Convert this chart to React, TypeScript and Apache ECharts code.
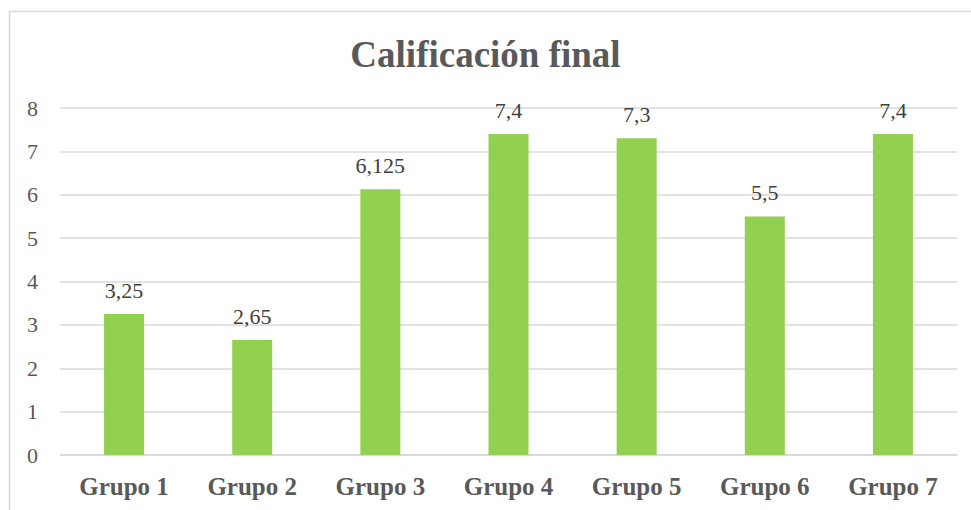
import React, { useEffect, useRef } from "react";
import * as echarts from "echarts";

const categories = ["Grupo 1", "Grupo 2", "Grupo 3", "Grupo 4", "Grupo 5", "Grupo 6", "Grupo 7"];
const values = [3.25, 2.65, 6.125, 7.4, 7.3, 5.5, 7.4];
const yTicks = [0, 1, 2, 3, 4, 5, 6, 7, 8];
const title = "Calificación final";

export default function App() {
  const ref = useRef<HTMLDivElement>(null);
  useEffect(() => {
    if (!ref.current) return;
    const chart = echarts.init(ref.current, undefined, { renderer: "svg" });
    const font = "'Liberation Serif', 'Times New Roman', serif";
    chart.setOption({
      animation: false,
      backgroundColor: "#ffffff",
      title: {
        text: title,
        left: "center",
        top: 31,
        textStyle: { fontFamily: font, fontSize: 37, fontWeight: "bold", color: "#595959" },
      },
      graphic: [
        {
          type: "rect",
          shape: { x: 9.5, y: 11.5, width: 980, height: 520 },
          style: { fill: "none", stroke: "#d9d9d9", lineWidth: 1.5 },
          silent: true,
        },
      ],
      grid: { left: 60, right: 14, top: 108, bottom: 55 },
      xAxis: {
        type: "category",
        data: categories,
        axisLine: { show: true, lineStyle: { color: "#d9d9d9", width: 1.5 } },
        axisTick: { show: false },
        axisLabel: {
          fontFamily: font,
          fontSize: 25,
          fontWeight: "bold",
          color: "#595959",
          margin: 19,
        },
      },
      yAxis: {
        type: "value",
        min: yTicks[0],
        max: yTicks[yTicks.length - 1],
        interval: 1,
        axisLine: { show: false },
        axisTick: { show: false },
        splitLine: { lineStyle: { color: "#d9d9d9", width: 1.5 } },
        axisLabel: {
          fontFamily: font,
          fontSize: 22,
          color: "#595959",
          margin: 22,
          formatter: (v: number) => String(v),
        },
      },
      series: [
        {
          type: "bar",
          data: values,
          barWidth: 40,
          itemStyle: { color: "#92d050" },
          label: {
            show: true,
            position: "top",
            distance: 13,
            fontFamily: font,
            fontSize: 22,
            color: "#404040",
            formatter: (p: any) => String(p.value).replace(".", ","),
          },
        },
      ],
    });
    return () => chart.dispose();
  }, []);
  return (
    <div
      ref={ref}
      style={{ position: "fixed", left: 0, top: 0, width: 971, height: 510 }}
    />
  );
}
